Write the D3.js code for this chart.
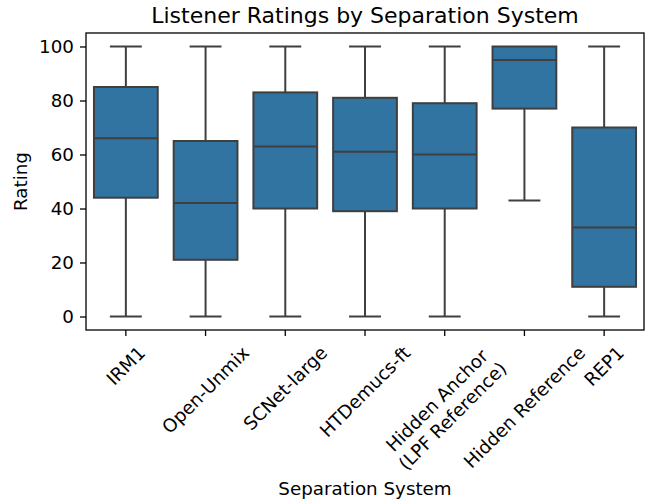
<!doctype html>
<html lang='en'>
<head>
    <meta charset='utf-8'>
    <title>Listener Ratings by Separation System</title>
    <script src='https://cdn.jsdelivr.net/npm/d3@7'></script>
    <style>
        body { margin: 0; background: white; }
        svg { display: block; font-family: 'DejaVu Sans', sans-serif; }
        .box { fill: #3274a1; stroke: #3f3f3f; stroke-width: 2px; }
        .whisker, .cap, .median { stroke: #3f3f3f; stroke-width: 2px; fill: none; }
        .spine { fill: none; stroke: black; stroke-width: 1.3px; }
    </style>
</head>
<body>
<svg id='chart' width='649' height='501'></svg>
<script>
    // values
    const systems = ['IRM1', 'Open-Unmix', 'SCNet-large', 'HTDemucs-ft',
        'Hidden Anchor\n(LPF Reference)', 'Hidden Reference', 'REP1'];
    const whiskerLow = [0, 0, 0, 0, 0, 43, 0];
    const q1 = [44, 21, 40, 39, 40, 77, 11];
    const median = [66, 42, 63, 61, 60, 95, 33];
    const q3 = [85, 65, 83, 81, 79, 100, 70];
    const whiskerHigh = [100, 100, 100, 100, 100, 100, 100];
    const yTicks = [0, 20, 40, 60, 80, 100];

    const margin = {left: 86, right: 5, top: 33, bottom: 171};
    const W = 649, H = 501;
    const fontSize = 18.3;

    const svg = d3.select('#chart');

    const x = d3.scaleBand()
        .domain(systems)
        .range([margin.left, W - margin.right])
        .paddingInner(0).paddingOuter(0);
    const y = d3.scaleLinear().domain([-5, 105]).range([H - margin.bottom, margin.top]);

    const data = systems.map((s, i) => ({
        name: s, lo: whiskerLow[i], q1: q1[i], med: median[i], q3: q3[i], hi: whiskerHigh[i]
    }));

    const boxW = x.bandwidth() * 0.8;
    const capW = boxW * 0.5;

    const g = svg.selectAll('.sys')
        .data(data)
        .enter()
        .append('g')
        .attr('transform', d => `translate(${x(d.name) + x.bandwidth() / 2},0)`);

    g.filter(d => d.hi > d.q3).append('line').classed('whisker', true)
        .attr('y1', d => y(d.q3)).attr('y2', d => y(d.hi));
    g.filter(d => d.lo < d.q1).append('line').classed('whisker', true)
        .attr('y1', d => y(d.q1)).attr('y2', d => y(d.lo));
    g.filter(d => d.hi > d.q3).append('line').classed('cap', true)
        .attr('x1', -capW / 2).attr('x2', capW / 2)
        .attr('y1', d => y(d.hi)).attr('y2', d => y(d.hi));
    g.filter(d => d.lo < d.q1).append('line').classed('cap', true)
        .attr('x1', -capW / 2).attr('x2', capW / 2)
        .attr('y1', d => y(d.lo)).attr('y2', d => y(d.lo));

    g.append('rect').classed('box', true)
        .attr('x', -boxW / 2).attr('width', boxW)
        .attr('y', d => y(d.q3))
        .attr('height', d => y(d.q1) - y(d.q3));

    g.append('line').classed('median', true)
        .attr('x1', -boxW / 2).attr('x2', boxW / 2)
        .attr('y1', d => y(d.med)).attr('y2', d => y(d.med));

    // y axis
    const yAxis = svg.append('g')
        .attr('transform', `translate(${margin.left},0)`)
        .call(d3.axisLeft(y).tickValues(yTicks).tickSize(6).tickPadding(6));
    yAxis.select('.domain').remove();
    yAxis.selectAll('.tick line').attr('stroke', 'black').attr('stroke-width', 1.3);
    yAxis.selectAll('.tick text')
        .attr('font-size', fontSize).attr('font-family', 'DejaVu Sans').attr('fill', 'black');

    // x axis ticks
    const xAxis = svg.append('g')
        .attr('transform', `translate(0,${H - margin.bottom})`)
        .call(d3.axisBottom(x).tickSize(6).tickFormat(''));
    xAxis.select('.domain').remove();
    xAxis.selectAll('.tick line').attr('stroke', 'black').attr('stroke-width', 1.3);

    // rotated tick labels, bbox centred under tick like matplotlib (rotation=45, ha=center)
    const labelTop = H - margin.bottom + 6 + 6;
    const lineStep = fontSize * 1.2;
    systems.forEach(s => {
        const lines = s.split('\n');
        const lg = svg.append('g');
        const t = lg.append('text')
            .attr('text-anchor', 'middle')
            .attr('font-size', fontSize)
            .attr('fill', 'black');
        lines.forEach((ln, i) => {
            t.append('tspan')
                .attr('x', 0)
                .attr('y', (i - (lines.length - 1) / 2) * lineStep + fontSize * 0.35)
                .text(ln);
        });
        const w = d3.max(t.selectAll('tspan').nodes(), n => n.getComputedTextLength());
        const h = fontSize * 1.17 + (lines.length - 1) * lineStep;
        const half = (w + h) / (2 * Math.SQRT2);
        lg.attr('transform', `translate(${x(s) + x.bandwidth() / 2},${labelTop + half}) rotate(-45)`);
    });

    // frame
    svg.append('rect').classed('spine', true)
        .attr('x', margin.left).attr('y', margin.top)
        .attr('width', W - margin.right - margin.left)
        .attr('height', H - margin.bottom - margin.top);

    svg.append('text')
        .attr('x', (margin.left + W - margin.right) / 2).attr('y', 23)
        .attr('text-anchor', 'middle').attr('font-size', 22)
        .text('Listener Ratings by Separation System');

    svg.append('text')
        .attr('x', (margin.left + W - margin.right) / 2).attr('y', 495)
        .attr('text-anchor', 'middle').attr('font-size', fontSize)
        .text('Separation System');

    svg.append('text')
        .attr('transform', `translate(27,${(margin.top + H - margin.bottom) / 2}) rotate(-90)`)
        .attr('text-anchor', 'middle').attr('font-size', fontSize)
        .text('Rating');
</script>
</body>
</html>
